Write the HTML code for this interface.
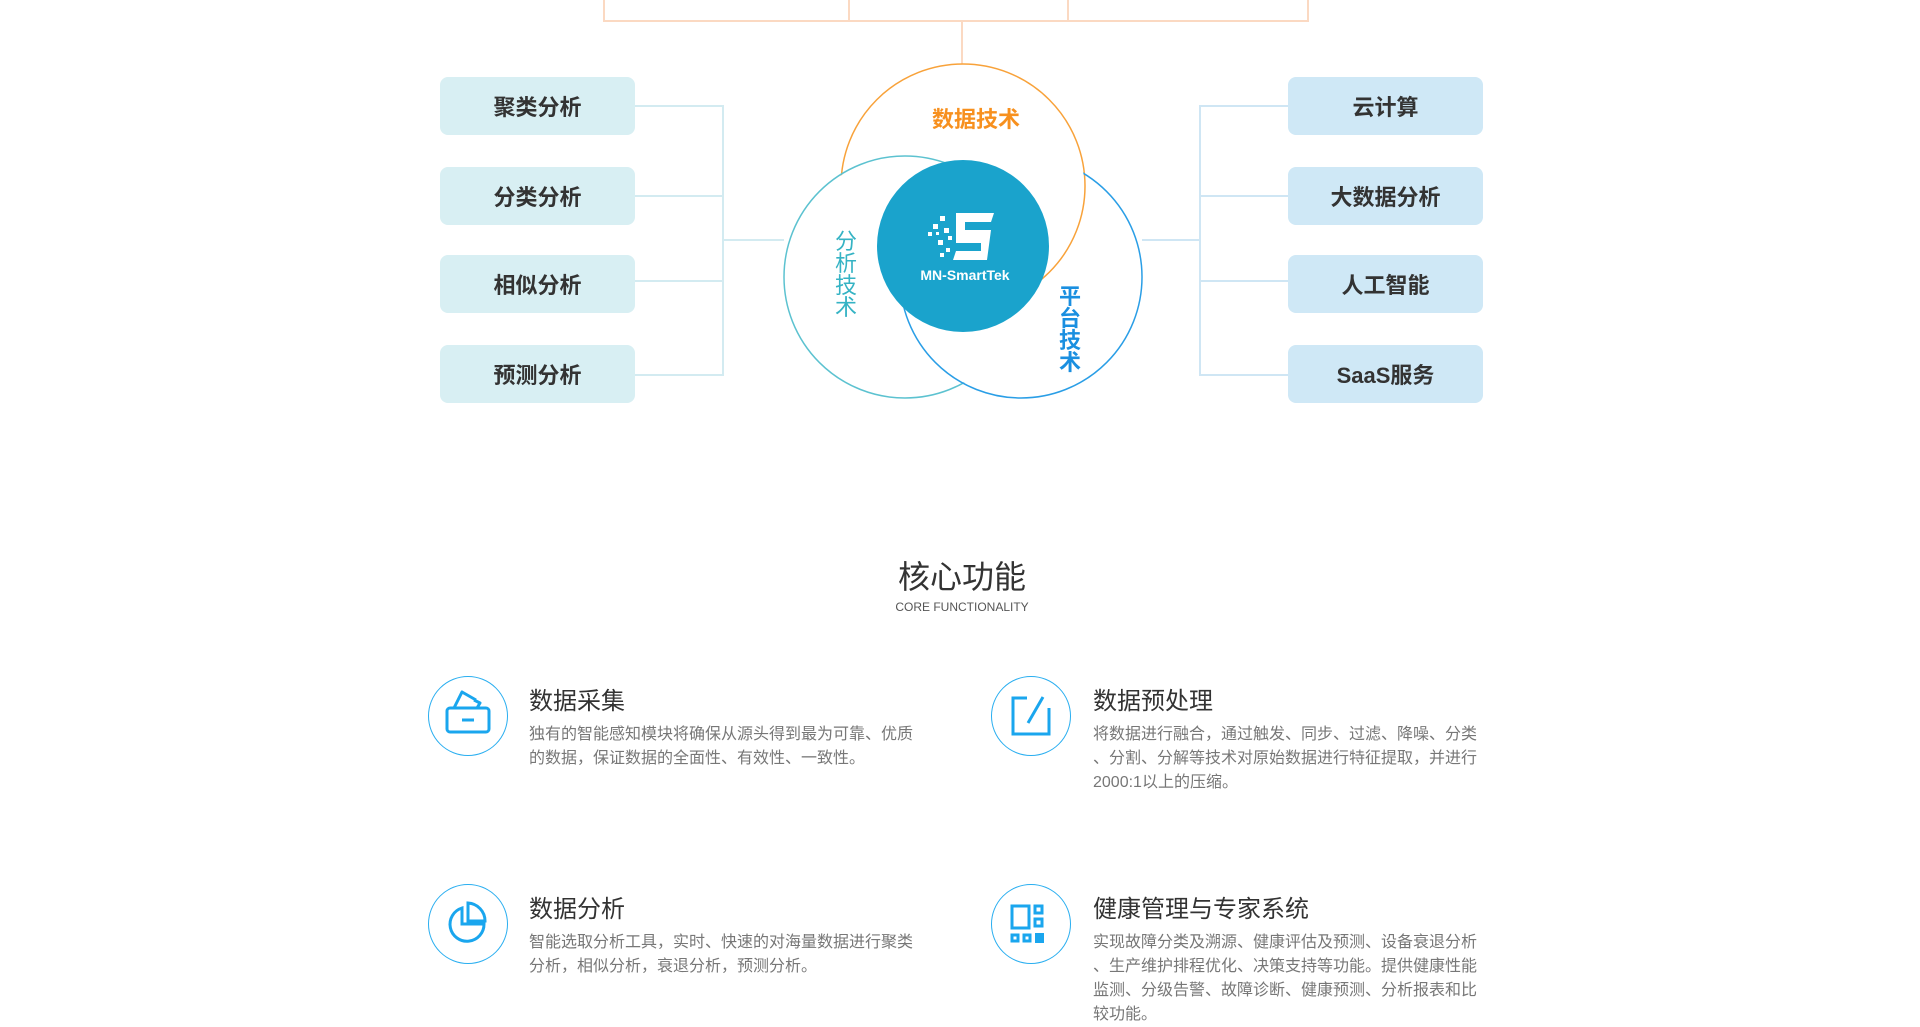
<!DOCTYPE html>
<html><head><meta charset="utf-8"><style>
*{margin:0;padding:0;box-sizing:border-box}
body{width:1920px;height:1000px;background:#fff;position:relative;overflow:hidden;font-family:"Liberation Sans","Noto Sans CJK SC",sans-serif}
.a{position:absolute}
.box{position:absolute;width:195px;height:58px;border-radius:8px;font-size:22px;font-weight:bold;color:#333;display:flex;align-items:center;justify-content:center}
.l{background:#d8eff3}.r{background:#cfe8f6}
.ic{position:absolute;width:80px;height:80px;border:1.5px solid #29aef0;border-radius:50%}
.t{position:absolute;font-size:24px;color:#333;line-height:28px}
.d{position:absolute;font-size:16px;color:#777;line-height:24px;letter-spacing:0;width:388px;line-break:anywhere;word-break:break-all}
</style></head><body>
<svg class="a" style="left:0;top:0" width="1920" height="500">
<defs>
<mask id="mo"><rect width="1920" height="500" fill="#fff"/><circle cx="905" cy="277" r="120" fill="#000"/></mask>
<mask id="mt"><rect width="1920" height="500" fill="#fff"/><circle cx="1021" cy="277" r="120" fill="#000"/></mask>
<mask id="mb"><rect width="1920" height="500" fill="#fff"/><circle cx="963" cy="186" r="121" fill="#000"/></mask>
</defs>
<g stroke="#fbd9c2" stroke-width="2" fill="none">
<path d="M604 0V21H1308V0M849 0V21M1068 0V21M962 21V64"/>
</g>
<g stroke="#d3ebf1" stroke-width="2" fill="none">
<path d="M635 106H723V375H635M635 196H723M635 281H723M723 240H784"/>
</g>
<g stroke="#cfe6f4" stroke-width="2" fill="none">
<path d="M1288 106H1200V375H1288M1288 196H1200M1288 281H1200M1200 240H1142"/>
</g>
<circle cx="963" cy="186" r="122" fill="none" stroke="#f8a23a" stroke-width="1.5" mask="url(#mo)"/>
<circle cx="905" cy="277" r="121" fill="none" stroke="#5cc2d0" stroke-width="1.5" mask="url(#mt)"/>
<circle cx="1021" cy="277" r="121" fill="none" stroke="#2a9ee6" stroke-width="1.5" mask="url(#mb)"/>
<circle cx="963" cy="246" r="86" fill="#1aa3cc"/>
<g fill="#fff">
<path d="M956 213h38l-3 9h-26v8h26l-4 30h-34l3-9h25v-8h-25z"/>
<rect x="940" y="216" width="5" height="5"/><rect x="933" y="224" width="5" height="5"/><rect x="944" y="228" width="5" height="5"/><rect x="928" y="232" width="4" height="4"/><rect x="938" y="240" width="5" height="5"/><rect x="946" y="248" width="4" height="4"/><rect x="940" y="253" width="4" height="4"/><rect x="948" y="236" width="4" height="4"/><rect x="936" y="232" width="3" height="3"/>
</g>
<text x="965" y="280" fill="#fff" font-size="14" font-weight="bold" text-anchor="middle" font-family="Liberation Sans">MN-SmartTek</text>
<text x="976" y="127" fill="#f7901e" font-size="22" font-weight="bold" text-anchor="middle" font-family="Liberation Sans,Noto Sans CJK SC,sans-serif">数据技术</text>
<g fill="#35b3c4" font-size="22" text-anchor="middle" font-family="Noto Sans CJK SC,sans-serif">
<text x="846" y="249">分</text><text x="846" y="271">析</text><text x="846" y="293">技</text><text x="846" y="315">术</text></g>
<g fill="#1a8fe0" font-size="22" font-weight="bold" text-anchor="middle" font-family="Noto Sans CJK SC,sans-serif">
<text x="1070" y="304">平</text><text x="1070" y="326">台</text><text x="1070" y="348">技</text><text x="1070" y="370">术</text></g>
<line x1="200" y1="505" x2="1727" y2="505" stroke="#ccc" stroke-width="1.5"/>
</svg>
<div class="box l" style="left:440px;top:77px">聚类分析</div>
<div class="box l" style="left:440px;top:167px">分类分析</div>
<div class="box l" style="left:440px;top:255px">相似分析</div>
<div class="box l" style="left:440px;top:345px">预测分析</div>
<div class="box r" style="left:1288px;top:77px">云计算</div>
<div class="box r" style="left:1288px;top:167px">大数据分析</div>
<div class="box r" style="left:1288px;top:255px">人工智能</div>
<div class="box r" style="left:1288px;top:345px">SaaS服务</div>
<div class="a" style="left:0;width:1924px;top:557px;text-align:center;font-size:32px;color:#333;line-height:40px">核心功能</div>
<div class="a" style="left:0;width:1924px;top:600px;text-align:center;font-size:12px;color:#555;line-height:14px">CORE FUNCTIONALITY</div>

<div class="ic" style="left:428px;top:676px"></div>
<svg class="a" style="left:428px;top:676px" width="80" height="80"><g fill="none" stroke="#1aa6ee" stroke-width="3" stroke-linejoin="round"><rect x="19" y="32" width="42" height="24" rx="3"/><path d="M26 32l8-16 14 8M46 24l6 3-3 5"/><line x1="34" y1="44" x2="46" y2="44"/></g></svg>
<div class="t" style="left:529px;top:688px">数据采集</div>
<div class="d" style="left:529px;top:723px">独有的智能感知模块将确保从源头得到最为可靠、优质的数据，保证数据的全面性、有效性、一致性。</div>

<div class="ic" style="left:991px;top:676px"></div>
<svg class="a" style="left:991px;top:676px" width="80" height="80"><g fill="none" stroke="#1aa6ee" stroke-width="3"><path d="M36 22H22v36h36V32"/><line x1="37" y1="47" x2="52" y2="21"/></g></svg>
<div class="t" style="left:1093px;top:688px">数据预处理</div>
<div class="d" style="left:1093px;top:723px">将数据进行融合，通过触发、同步、过滤、降噪、分类、分割、分解等技术对原始数据进行特征提取，并进行2000:1以上的压缩。</div>

<div class="ic" style="left:428px;top:884px"></div>
<svg class="a" style="left:428px;top:884px" width="80" height="80"><g fill="none" stroke="#1aa6ee" stroke-width="3"><path d="M34 24A17 17 0 1 0 56 40H34z"/><path d="M40 19v18h17A18 18 0 0 0 40 19z"/></g></svg>
<div class="t" style="left:529px;top:896px">数据分析</div>
<div class="d" style="left:529px;top:931px">智能选取分析工具，实时、快速的对海量数据进行聚类分析，相似分析，衰退分析，预测分析。</div>

<div class="ic" style="left:991px;top:884px"></div>
<svg class="a" style="left:991px;top:884px" width="80" height="80"><g fill="none" stroke="#1aa6ee" stroke-width="3"><rect x="21" y="22" width="17" height="22"/><rect x="44" y="22" width="7" height="7"/><rect x="44" y="35" width="7" height="7"/><rect x="21" y="51" width="6" height="6"/><rect x="33" y="51" width="6" height="6"/></g><rect x="44" y="49" width="9" height="10" fill="#1aa6ee"/></svg>
<div class="t" style="left:1093px;top:896px">健康管理与专家系统</div>
<div class="d" style="left:1093px;top:931px">实现故障分类及溯源、健康评估及预测、设备衰退分析、生产维护排程优化、决策支持等功能。提供健康性能监测、分级告警、故障诊断、健康预测、分析报表和比较功能。</div>
</body></html>
